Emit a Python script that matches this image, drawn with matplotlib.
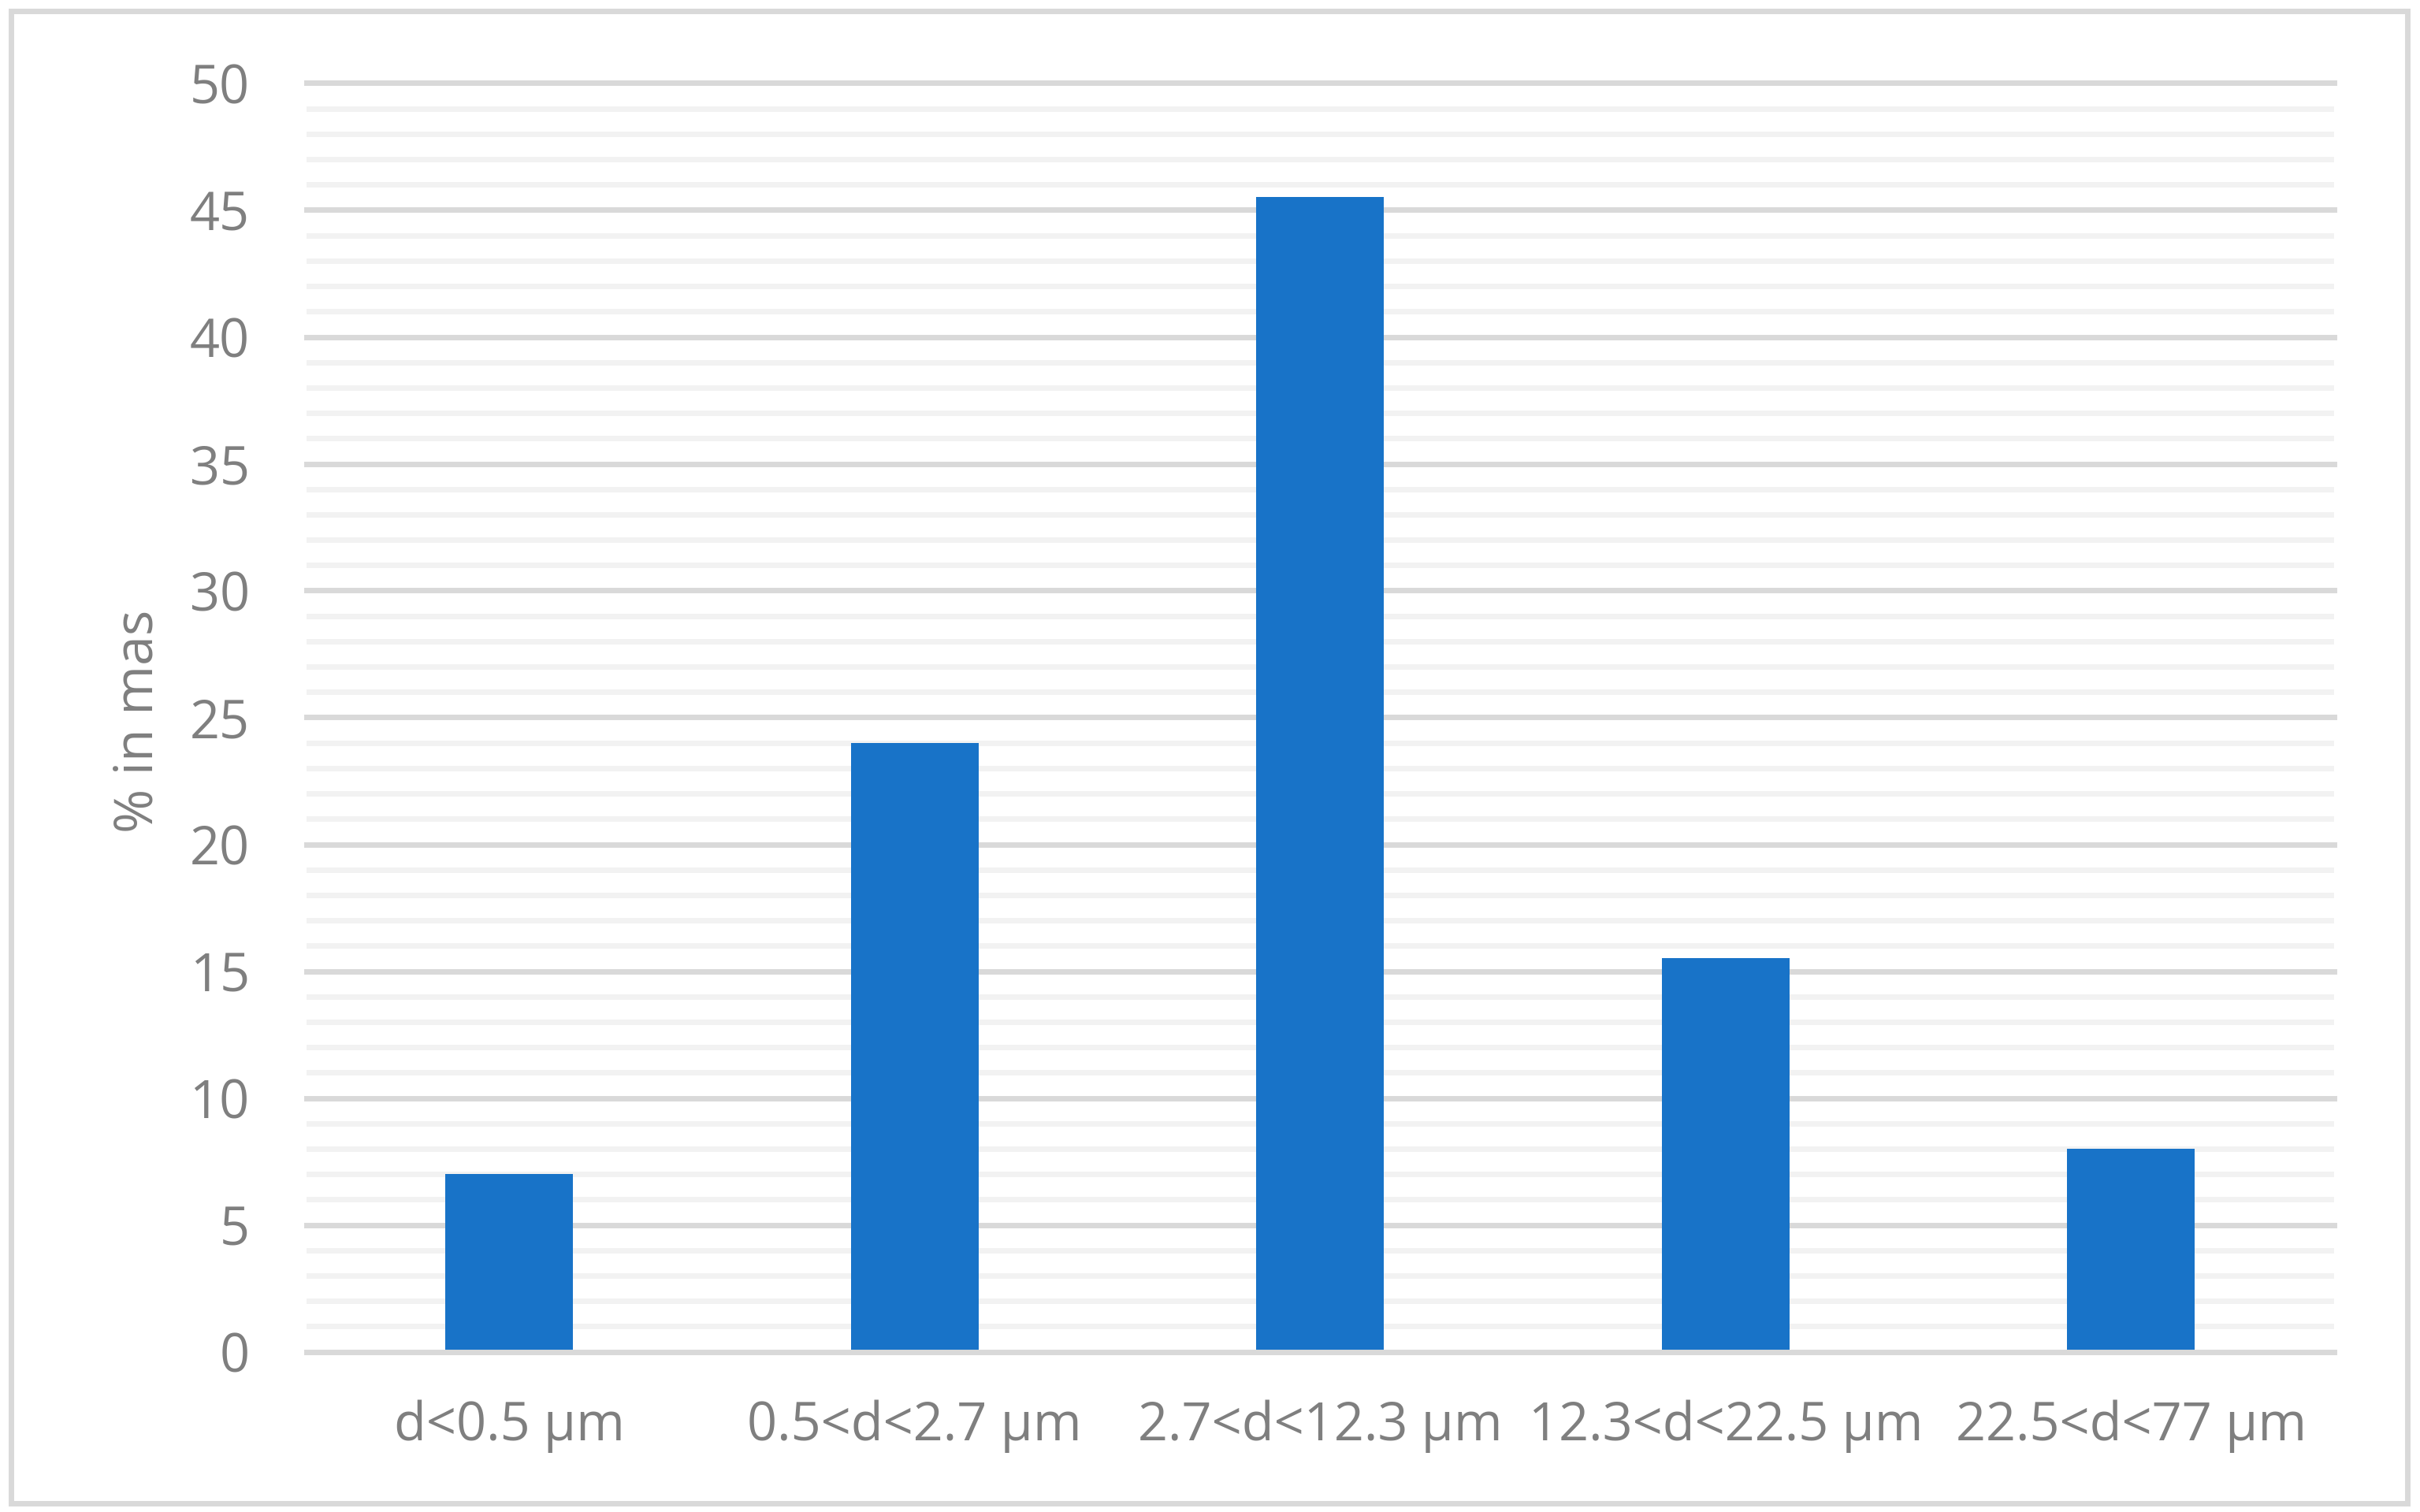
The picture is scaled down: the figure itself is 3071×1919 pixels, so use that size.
import matplotlib.pyplot as plt
import numpy as np

# particle size classes and mass share
categories = ['d<0.5 µm', '0.5<d<2.7 µm', '2.7<d<12.3 µm', '12.3<d<22.5 µm', '22.5<d<77 µm']
mass_pct = [7, 24, 45.5, 15.5, 8]
y_ticks = [0, 5, 10, 15, 20, 25, 30, 35, 40, 45, 50]

bar_color = '#1873c8'
text_color = '#7f7f7f'
major_grid = '#d9d9d9'
minor_grid = '#f2f2f2'

plt.rcParams['font.family'] = ['Open Sans', 'DejaVu Sans']

fig = plt.figure(figsize=(30.71, 19.19), dpi=100)
ax = fig.add_axes([389 / 3071, 1 - 1715.5 / 1919, (2961.5 - 389) / 3071, (1715.5 - 105.5) / 1919])

x = np.arange(len(categories))
ax.bar(x, mass_pct, width=0.315, color=bar_color, zorder=2)

ax.set_xlim(-0.5, len(categories) - 0.5)
ax.set_ylim(0, 50)

# light minor lines every 1, darker lines every 5
for v in range(0, 51):
    if v % 5 == 0:
        continue
    ax.axhline(v, color=minor_grid, lw=5, zorder=1)
for v in y_ticks:
    ax.axhline(v, color=major_grid, lw=5, zorder=1 if v else 3, clip_on=False)

ax.set_yticks(y_ticks)
ax.set_xticks(x)
ax.set_xticklabels(categories)
ax.tick_params(axis='both', length=0, colors=text_color, labelsize=48)
ax.tick_params(axis='y', pad=52)
ax.tick_params(axis='x', pad=44)
for s in ax.spines.values():
    s.set_visible(False)

fig.text(176 / 3071, 1 - 915 / 1919, '% in mas', rotation=90, color=text_color,
         fontsize=49, ha='center', va='center')

# outer chart border
border = plt.Rectangle((13.5 / 3071, 1 - 1908 / 1919), (3054.5 - 13.5) / 3071, (1908 - 14) / 1919,
                       transform=fig.transFigure, fill=False, edgecolor=major_grid, lw=5)
fig.patches.append(border)

fig.savefig('out.png', dpi=100)
